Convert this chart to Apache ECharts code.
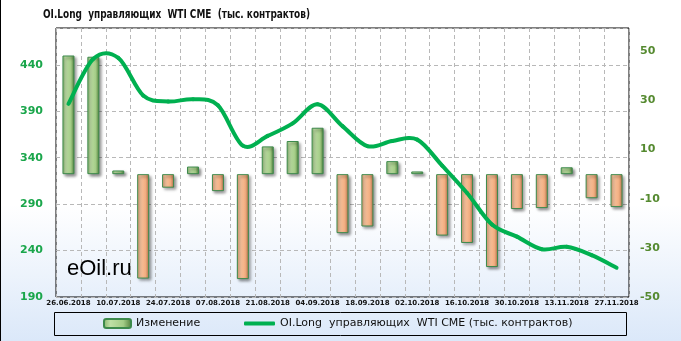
<!DOCTYPE html>
<html>
<head>
<meta charset="utf-8">
<script src="https://cdn.jsdelivr.net/npm/echarts@6/dist/echarts.min.js"></script>
<style>
html,body{margin:0;padding:0;background:#fff;}
#chart{width:681px;height:341px;background:linear-gradient(to bottom,#ffffff 0%,#ffffff 60%,#dbe8f9 100%);}
</style>
</head>
<body>
<div id="chart"></div>
<script>
var titleText = 'OI.Long  управляющих  WTI CME  (тыс. контрактов)';
var changeName = 'Изменение';
var lineName = 'OI.Long  управляющих  WTI CME (тыс. контрактов)';
var categories = ['26.06.2018','03.07.2018','10.07.2018','17.07.2018','24.07.2018','31.07.2018','07.08.2018','14.08.2018','21.08.2018','28.08.2018','04.09.2018','11.09.2018','18.09.2018','25.09.2018','02.10.2018','09.10.2018','16.10.2018','23.10.2018','30.10.2018','06.11.2018','13.11.2018','20.11.2018','27.11.2018'];
var changes = [48.3, 47.8, 1.5, -42.5, -5.5, 3.1, -6.9, -42.7, 11.3, 13.5, 18.9, -24.0, -21.3, 5.3, 1.1, -25.0, -28.0, -37.8, -14.2, -13.8, 2.8, -9.8, -13.4];
var oiLong = [398, 446.5, 447.5, 407, 400.5, 403, 396.5, 353, 363.5, 377, 397.5, 374, 352.5, 358, 359.5, 331.5, 302, 268, 255, 241.5, 244, 235, 221.5];

var greenGrad = new echarts.graphic.LinearGradient(0,0,1,0,[
  {offset:0,color:'#86b36a'},{offset:0.25,color:'#bfe0a6'},{offset:0.7,color:'#a3cc86'},{offset:1,color:'#4f7d3a'}]);
var orangeGrad = new echarts.graphic.LinearGradient(0,0,1,0,[
  {offset:0,color:'#d99a6c'},{offset:0.25,color:'#fcc8a2'},{offset:0.7,color:'#f1ad80'},{offset:1,color:'#b0704a'}]);

var barData = changes.map(function(v){
  return {value:v, itemStyle:{color: v>=0 ? greenGrad : orangeGrad}};
});
var lineData = oiLong.map(function(v,i){ return [i, v]; });

// title width fit
var titleFont = 'bold 13px "DejaVu Sans Condensed", sans-serif';
var mctx = document.createElement('canvas').getContext('2d');
mctx.font = titleFont;
var titleScale = 267 / mctx.measureText(titleText).width;

function renderSmooth(params, api){
  var i = params.dataIndex;
  var n = oiLong.length;
  if (i >= n - 1) return null;
  var p = function(j){ j = Math.max(0, Math.min(n-1, j)); return api.coord([j, oiLong[j]]); };
  var p0 = p(i-1), p1 = p(i), p2 = p(i+1), p3 = p(i+2);
  var k = 1/6;
  return {
    type:'bezierCurve',
    shape:{x1:p1[0],y1:p1[1],x2:p2[0],y2:p2[1],
      cpx1:p1[0]+(p2[0]-p0[0])*k, cpy1:p1[1]+(p2[1]-p0[1])*k,
      cpx2:p2[0]-(p3[0]-p1[0])*k, cpy2:p2[1]-(p3[1]-p1[1])*k},
    style:{stroke:'#00b050',lineWidth:4,fill:null,lineCap:'round'}
  };
}

var chart = echarts.init(document.getElementById('chart'), null, {renderer:'canvas'});
chart.setOption({
  animation:false,
  backgroundColor:'transparent',
  grid:{left:56,right:52,top:28,bottom:44,show:true,borderColor:'#000',borderWidth:1,backgroundColor:'transparent'},
  legend:[
    {data:[changeName],left:103,top:318,padding:0,itemWidth:27,itemHeight:9,
     textStyle:{fontFamily:'DejaVu Sans',fontSize:11,color:'#111'}},
    {data:[{name:lineName,icon:'roundRect'}],left:244,top:318,padding:0,itemWidth:31,itemHeight:4,
     textStyle:{fontFamily:'DejaVu Sans',fontSize:11,color:'#111'}}
  ],
  xAxis:{type:'category',data:categories,boundaryGap:true,
    axisLine:{show:false},axisTick:{show:false,interval:0},
    axisLabel:{interval:1,margin:3,fontFamily:'DejaVu Sans',fontWeight:'bold',fontSize:7,color:'#111'},
    splitLine:{show:true,interval:0,lineStyle:{color:'#b8b8b8',type:[4,3],width:1}}},
  yAxis:[
    {type:'value',min:190,max:479.7,interval:50,position:'left',
     axisLine:{show:false},axisTick:{show:false},
     axisLabel:{showMaxLabel:false,margin:13,fontFamily:'DejaVu Sans',fontWeight:'bold',fontSize:11,color:'#1aa64b'},
     splitLine:{show:true,lineStyle:{color:'#b8b8b8',type:[4,3],width:1}}},
    {type:'value',min:-50,max:59.5,interval:20,position:'right',
     axisLine:{show:false},axisTick:{show:false},
     axisLabel:{showMaxLabel:false,margin:11,fontFamily:'DejaVu Sans',fontWeight:'bold',fontSize:11,color:'#558a30'},
     splitLine:{show:false}}
  ],
  series:[
    {name:changeName,type:'bar',yAxisIndex:1,barWidth:12,data:barData,
     itemStyle:{color:greenGrad,borderColor:'#3d8a4c',borderWidth:1,shadowColor:'rgba(0,0,0,0.45)',shadowBlur:3,shadowOffsetX:2,shadowOffsetY:2}},
    {name:lineName,type:'custom',yAxisIndex:0,data:lineData,encode:{x:0,y:1},z:5,
     renderItem:renderSmooth,itemStyle:{color:'#00b050'}}
  ],
  graphic:[
    {type:'rect',shape:{x:54.5,y:312.5,width:572,height:23},style:{fill:'transparent',stroke:'#000',lineWidth:1},silent:true},
    {type:'line',shape:{x1:0.5,y1:0,x2:0.5,y2:341},style:{stroke:'#000',lineWidth:1},silent:true},
    {type:'text',x:43,y:8,scaleX:titleScale,z:10,style:{text:titleText,font:titleFont,fill:'#111'}},
    {type:'text',left:67,top:258,z:10,style:{text:'eOil.ru',font:'22px "Liberation Sans", Arial, sans-serif',fill:'#000'}}
  ]
});
</script>
</body>
</html>
